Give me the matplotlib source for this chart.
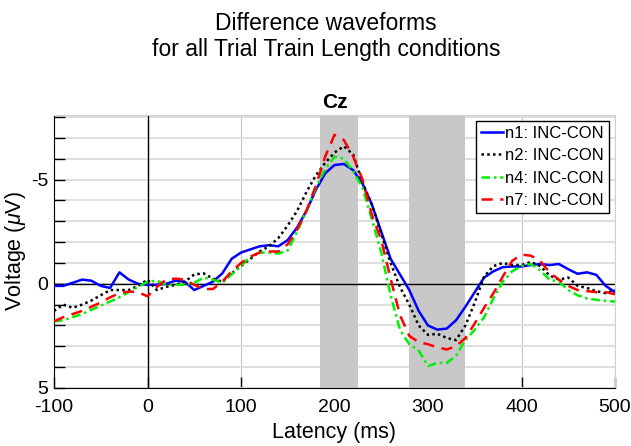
import numpy as np
import matplotlib
matplotlib.use('Agg')
import matplotlib.pyplot as plt

plt.rcParams['font.family'] = ['Liberation Sans', 'DejaVu Sans']
plt.rcParams['mathtext.fontset'] = 'custom'
plt.rcParams['mathtext.rm'] = 'Liberation Sans'
plt.rcParams['mathtext.it'] = 'Liberation Sans:italic'
plt.rcParams['axes.unicode_minus'] = False

# latency samples (ms)
latency = np.arange(-100, 501, 10)

n1 = [0.1, 0.1, -0.05, -0.2, -0.15, 0.1, 0.2, -0.55, -0.2, 0.0,
      0.05, 0.05, 0.0, -0.15, -0.1, 0.3, 0.1, -0.1, -0.5, -1.2,
      -1.5, -1.65, -1.8, -1.85, -1.8, -2.1, -2.7, -3.5, -4.5, -5.3,
      -5.7, -5.75, -5.45, -4.8, -3.8, -2.5, -1.2, -0.45, 0.3, 1.3,
      2.0, 2.2, 2.15, 1.75, 1.1, 0.4, -0.3, -0.6, -0.8, -0.83,
      -0.83, -0.9, -0.95, -0.9, -0.95, -0.7, -0.48, -0.55, -0.43, 0.1,
      0.4]
n2 = [1.3, 1.0, 1.15, 1.0, 0.8, 0.55, 0.3, 0.3, 0.3, 0.1,
      -0.2, 0.3, 0.15, 0.05, -0.1, -0.45, -0.5, -0.25, -0.1, -0.5,
      -0.85, -1.2, -1.55, -1.8, -2.2, -2.8, -3.5, -4.4, -5.2, -5.8,
      -6.3, -6.6, -6.2, -4.85, -3.8, -2.4, -1.0, 0.15, 1.0, 2.0,
      2.45, 2.4, 2.6, 2.7, 2.0, 0.9, -0.35, -0.85, -1.0, -0.9,
      -0.9, -1.05, -0.85, -0.4, -0.2, -0.3, 0.1, 0.2, 0.35, 0.45,
      0.3]
n4 = [1.8, 1.75, 1.6, 1.45, 1.25, 1.05, 0.85, 0.65, 0.4, 0.15,
      -0.1, -0.15, 0.05, 0.05, 0.05, -0.05, -0.3, -0.2, -0.05, -0.45,
      -0.85, -1.3, -1.5, -1.5, -1.45, -1.6, -2.5, -3.5, -4.6, -5.5,
      -6.1, -6.0, -5.4, -4.6, -3.1, -1.5, 0.55, 2.2, 2.9, 3.2,
      3.95, 3.8, 3.8, 3.45, 2.7, 2.2, 1.6, 0.7, -0.1, -0.6,
      -0.85, -0.95, -0.65, -0.2, -0.1, 0.3, 0.55, 0.7, 0.77, 0.82,
      0.85]
n7 = [1.8, 1.6, 1.45, 1.3, 1.1, 0.9, 0.65, 0.45, 0.37, 0.4,
      0.6, 0.15, -0.2, -0.25, -0.2, 0.05, 0.25, 0.25, -0.1, -0.6,
      -1.0, -1.3, -1.5, -1.55, -1.55, -1.9, -2.6, -3.5, -4.7, -6.1,
      -7.15, -6.9, -6.1, -5.0, -3.3, -2.1, -0.25, 1.5, 2.5, 2.8,
      2.9, 3.05, 3.15, 3.0, 2.6, 1.9, 1.15, 0.45, -0.35, -1.1,
      -1.4, -1.35, -1.1, -0.55, -0.2, 0.1, 0.3, 0.35, 0.4, 0.4,
      0.5]

windows = [(185, 225), (280, 340)]
labels = ['n1: INC-CON', 'n2: INC-CON', 'n4: INC-CON', 'n7: INC-CON']

fig = plt.figure(figsize=(6.31, 4.46), dpi=100)
ax = fig.add_axes([54 / 631, 58 / 446, 561 / 631, 273 / 446])

for lo, hi in windows:
    ax.axvspan(lo, hi, color='#c8c8c8', lw=0, zorder=1)

ax.plot(latency, n1, color='#0000ff', lw=1.8, label=labels[0], zorder=3)
ax.plot(latency, n2, color='black', lw=1.8, ls=(0, (1, 1.3)), label=labels[1], zorder=3)
ax.plot(latency, n4, color='#00ee00', lw=1.8, ls=(0, (3.5, 1.5, 1, 1.5)), label=labels[2], zorder=3)
ax.plot(latency, n7, color='#ff0000', lw=1.8, ls=(0, (4.5, 3)), label=labels[3], zorder=3)

ax.axhline(0, color='black', lw=1, zorder=2)
ax.axvline(0, color='black', lw=1, zorder=2)

ax.set_xlim(-100, 500)
ax.set_ylim(5, -8.1)
ax.set_xticks(range(-100, 501, 100))
ax.set_yticks([-5, 0, 5])
ax.set_yticks(range(-8, 6), minor=True)

ax.grid(True, which='minor', axis='y', color='#dcdcdc', lw=1.3, zorder=0)
ax.grid(True, which='major', axis='y', color='#dcdcdc', lw=1.3, zorder=0)
ax.grid(True, which='major', axis='x', color='#c4c4c4', lw=0.8, zorder=0)
ax.set_axisbelow(True)

ax.tick_params(axis='both', which='both', direction='in', length=8, width=1,
               labelsize=14, top=False, right=False)
ax.tick_params(axis='x', pad=8)
ax.tick_params(axis='y', pad=4)
for side in ['left', 'bottom']:
    ax.spines[side].set_color('black')
for side in ['top', 'right']:
    ax.spines[side].set_color('#d0d0d0')

ax.set_xlabel('Latency (ms)', fontsize=15.5, labelpad=4)
ax.set_ylabel(r'Voltage ($\mu$V)', fontsize=15.5, labelpad=2)
ax.set_title('Cz', fontsize=15, fontweight='bold', pad=5)

leg = ax.legend(loc='upper right', fontsize=12, handlelength=1.3, handletextpad=0.15,
                labelspacing=0.45, borderpad=0.3, borderaxespad=0.35,
                fancybox=False, framealpha=1, edgecolor='black')
leg.get_frame().set_linewidth(1)

fig.text(0.517, 1 - 12 / 446, 'Difference waveforms\nfor all Trial Train Length conditions',
         ha='center', va='top', fontsize=16.5, linespacing=1.15)

fig.savefig('out.png', dpi=100)
